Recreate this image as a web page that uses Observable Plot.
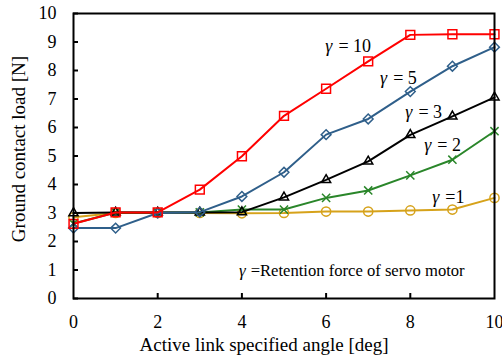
<!DOCTYPE html>
<html>
<head>
<meta charset="utf-8">
<script src="https://cdn.jsdelivr.net/npm/d3@7"></script>
<script src="https://cdn.jsdelivr.net/npm/@observablehq/plot@0.6"></script>
<style>
  html, body { margin: 0; padding: 0; background: #fff; }
  #chart svg { display: block; }
</style>
</head>
<body>
<div id="chart"></div>
<script>
const angles = [0, 1, 2, 3, 4, 5, 6, 7, 8, 9, 10];
const gamma10 = [2.62, 3.02, 3.02, 3.82, 4.99, 6.41, 7.36, 8.32, 9.25, 9.27, 9.27];
const gamma5  = [2.47, 2.47, 3.00, 3.03, 3.58, 4.43, 5.75, 6.30, 7.26, 8.15, 8.82];
const gamma3  = [3.00, 3.02, 3.02, 3.02, 3.03, 3.55, 4.16, 4.81, 5.74, 6.39, 7.06];
const gamma2  = [2.63, 3.02, 3.02, 3.02, 3.12, 3.12, 3.53, 3.79, 4.32, 4.87, 5.87];
const gamma1  = [2.85, 3.00, 3.00, 3.00, 2.99, 3.00, 3.05, 3.05, 3.09, 3.12, 3.53];

const seriesNames = ["γ=1", "γ=2", "γ=3", "γ=5", "γ=10"];
const seriesValues = [gamma1, gamma2, gamma3, gamma5, gamma10];
const seriesColors = ["#d6a21a", "#2a862a", "#000000", "#2f5f8a", "#ff0000"];
const seriesSymbols = ["circle", "times", "triangle", "diamond2", "square"];
const seriesSizes = [4.6, 3.8, 3.4, 4.4, 5.0];

const labelRest = ["= 10", "= 5", "= 3", "= 2", "=1"];
const labelX = [6.15, 7.45, 8.05, 8.5, 8.69];
const labelY = [8.84, 7.72, 6.54, 5.39, 3.55];

const noteRest = ["=Retention force of servo motor"];
const noteX = [4.09];
const noteY = [0.98];

const xTicks = [0, 2, 4, 6, 8, 10];
const xInnerTicks = [2, 4, 6, 8];
const yTicks = [0, 1, 2, 3, 4, 5, 6, 7, 8, 9, 10];
const xTitle = "Active link specified angle [deg]";
const yTitle = "Ground contact load [N]";

const labels = labelRest.map((t, i) => ({t, x: labelX[i], y: labelY[i]}));
const notes = noteRest.map((t, i) => ({t, x: noteX[i], y: noteY[i]}));

const FF = "Liberation Serif, DejaVu Serif";

const marks = [];
seriesNames.forEach((name, s) => {
  const rows = angles.map((a, i) => ({angle: a, load: seriesValues[s][i]}));
  marks.push(Plot.line(rows, {x: "angle", y: "load", stroke: seriesColors[s], strokeWidth: 2}));
  marks.push(Plot.dot(rows, {x: "angle", y: "load", stroke: seriesColors[s], symbol: seriesSymbols[s], r: seriesSizes[s], fill: "none", strokeWidth: 1.5}));
});

const chart = Plot.plot({
  width: 502,
  height: 356,
  marginLeft: 73,
  marginRight: 8,
  marginTop: 13,
  marginBottom: 58,
  style: {fontFamily: FF, fontSize: "18px", color: "#000", background: "#fff"},
  x: {domain: [0, 10]},
  y: {domain: [0, 10]},
  marks: [
    Plot.axisX(xTicks, {anchor: "bottom", tickSize: 0, tickPadding: 17, fontSize: 18, fontFamily: FF, label: null}),
    Plot.axisX(xInnerTicks, {anchor: "bottom", tickSize: 5, dy: -5, text: null, strokeWidth: 2, label: null}),
    Plot.axisY(yTicks, {anchor: "left", tickSize: 0, tickPadding: 17, fontSize: 18, fontFamily: FF, label: null}),
    Plot.axisY(yTicks, {anchor: "left", tickSize: 5, dx: 5, text: null, strokeWidth: 2, label: null}),
    ...marks,
    Plot.frame({stroke: "#000", strokeWidth: 2}),
    Plot.text(labels, {x: "x", y: "y", text: () => "γ", textAnchor: "end", fontStyle: "italic", fontSize: 18, fontFamily: FF}),
    Plot.text(labels, {x: "x", y: "y", text: "t", textAnchor: "start", fontSize: 18, fontFamily: FF, dx: 6}),
    Plot.text(notes, {x: "x", y: "y", text: () => "γ", textAnchor: "end", fontStyle: "italic", fontSize: 17, fontFamily: FF}),
    Plot.text(notes, {x: "x", y: "y", text: "t", textAnchor: "start", fontSize: 16.6, fontFamily: FF, dx: 5}),
    Plot.text([xTitle], {frameAnchor: "bottom", text: d => d, textAnchor: "middle", dx: -20, dy: 52, fontSize: 19, fontFamily: FF}),
    Plot.text([yTitle], {frameAnchor: "left", text: d => d, textAnchor: "middle", rotate: -90, dx: -55, dy: -7, fontSize: 19, fontFamily: FF})
  ]
});
document.getElementById("chart").appendChild(chart);
</script>
</body>
</html>
